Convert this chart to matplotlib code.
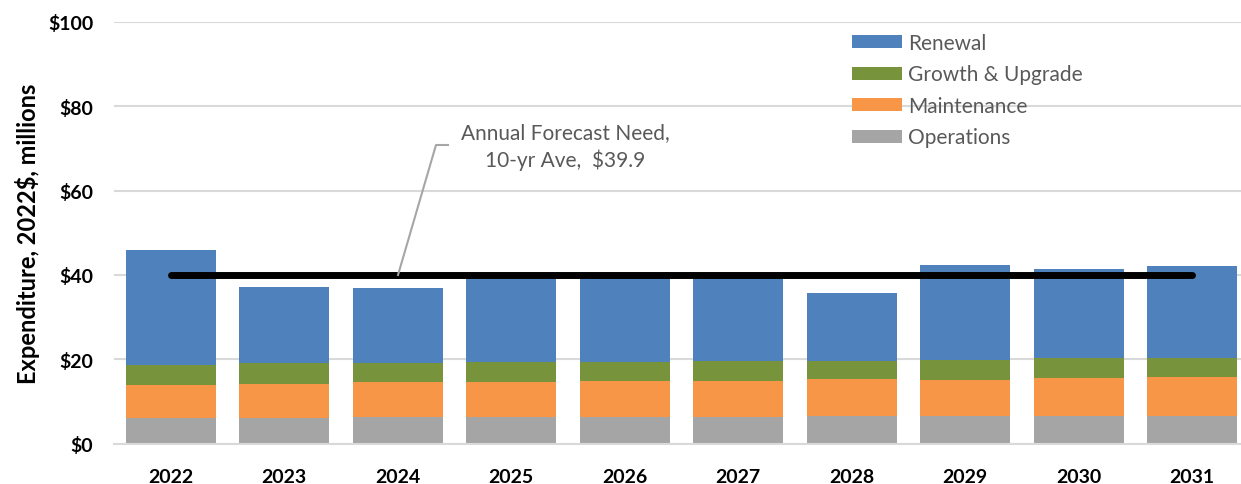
import matplotlib
matplotlib.use("Agg")
import matplotlib.pyplot as plt
import numpy as np

years = ["2022", "2023", "2024", "2025", "2026", "2027", "2028", "2029", "2030", "2031"]
# cumulative tops
operations = [6.0, 6.0, 6.3, 6.3, 6.3, 6.3, 6.5, 6.5, 6.5, 6.5]
maint_top = [13.9, 14.2, 14.5, 14.5, 14.8, 14.8, 15.2, 15.1, 15.5, 15.7]
growth_top = [18.7, 19.0, 19.0, 19.3, 19.3, 19.6, 19.6, 19.9, 20.3, 20.3]
total = [45.9, 37.2, 36.9, 39.0, 39.8, 39.8, 35.7, 42.4, 41.4, 42.1]
avg_need = 39.9

maintenance = [m - o for m, o in zip(maint_top, operations)]
growth = [g - m for g, m in zip(growth_top, maint_top)]
renewal = [t - g for t, g in zip(total, growth_top)]

plt.rcParams['font.family'] = ['Lato', 'DejaVu Sans']

W, H = 1241, 485
fig = plt.figure(figsize=(W / 100, H / 100), dpi=100)
left = 114 / W
bottom = 1 - 444.5 / H
top = 1 - 23 / H
ax = fig.add_axes([left, bottom, 1 - left, top - bottom])

x = np.arange(len(years))
width = 0.79
c_ops, c_main, c_gr, c_ren = "#a5a5a5", "#f79646", "#77933c", "#4f81bd"
ax.bar(x, operations, width, color=c_ops, label="Operations", zorder=2)
ax.bar(x, maintenance, width, bottom=operations, color=c_main, label="Maintenance", zorder=2)
ax.bar(x, growth, width, bottom=maint_top, color=c_gr, label="Growth & Upgrade", zorder=2)
ax.bar(x, renewal, width, bottom=growth_top, color=c_ren, label="Renewal", zorder=2)

ax.plot([x[0], x[-1]], [avg_need, avg_need], color="black", lw=5, solid_capstyle="round", zorder=3)

ax.set_ylim(0, 100)
ax.set_yticks(np.arange(0, 101, 20))
ax.set_yticklabels([f"${v}" for v in range(0, 101, 20)])
span = 9.5 - (1249 - 1241) / 113.6
ax.set_xlim(-0.5, span)
ax.set_xticks(x)
ax.set_xticklabels(years)
ax.grid(axis="y", color="#d9d9d9", lw=1.5, zorder=0)
ax.set_axisbelow(True)
for s in ["left", "right", "top"]:
    ax.spines[s].set_visible(False)
ax.spines["bottom"].set_color("#d9d9d9")
ax.spines["bottom"].set_linewidth(1.5)
ax.tick_params(axis="both", length=0, labelsize=14)
ax.tick_params(axis="y", pad=15)
ax.tick_params(axis="x", pad=18)
for lab in ax.get_xticklabels() + ax.get_yticklabels():
    lab.set_fontweight("bold")
ax.set_ylabel("Expenditure, 2022$, millions", fontsize=17, fontweight="bold", labelpad=6)

handles, labels = ax.get_legend_handles_labels()
leg = fig.legend(handles[::-1], labels[::-1], loc="upper left",
                 bbox_to_anchor=(852 / W, 1 - 34 / H), frameon=False,
                 fontsize=15, handlelength=2.4, handleheight=0.58,
                 handletextpad=0.3, labelspacing=0.55, borderaxespad=0, borderpad=0)
for t in leg.get_texts():
    t.set_color("#595959")

# leader line and annotation text
fig.add_artist(plt.Line2D([398 / W, 436 / W, 448 / W], [1 - 276 / H, 1 - 146 / H, 1 - 146 / H],
                          color="#a6a6a6", lw=1.5, transform=fig.transFigure, zorder=4))
fig.text(565 / W, 1 - 147 / H, "Annual Forecast Need,\n10-yr Ave,  $39.9", ha="center", va="center",
         fontsize=15, color="#595959", linespacing=1.35)

fig.savefig("out.png", dpi=100)
